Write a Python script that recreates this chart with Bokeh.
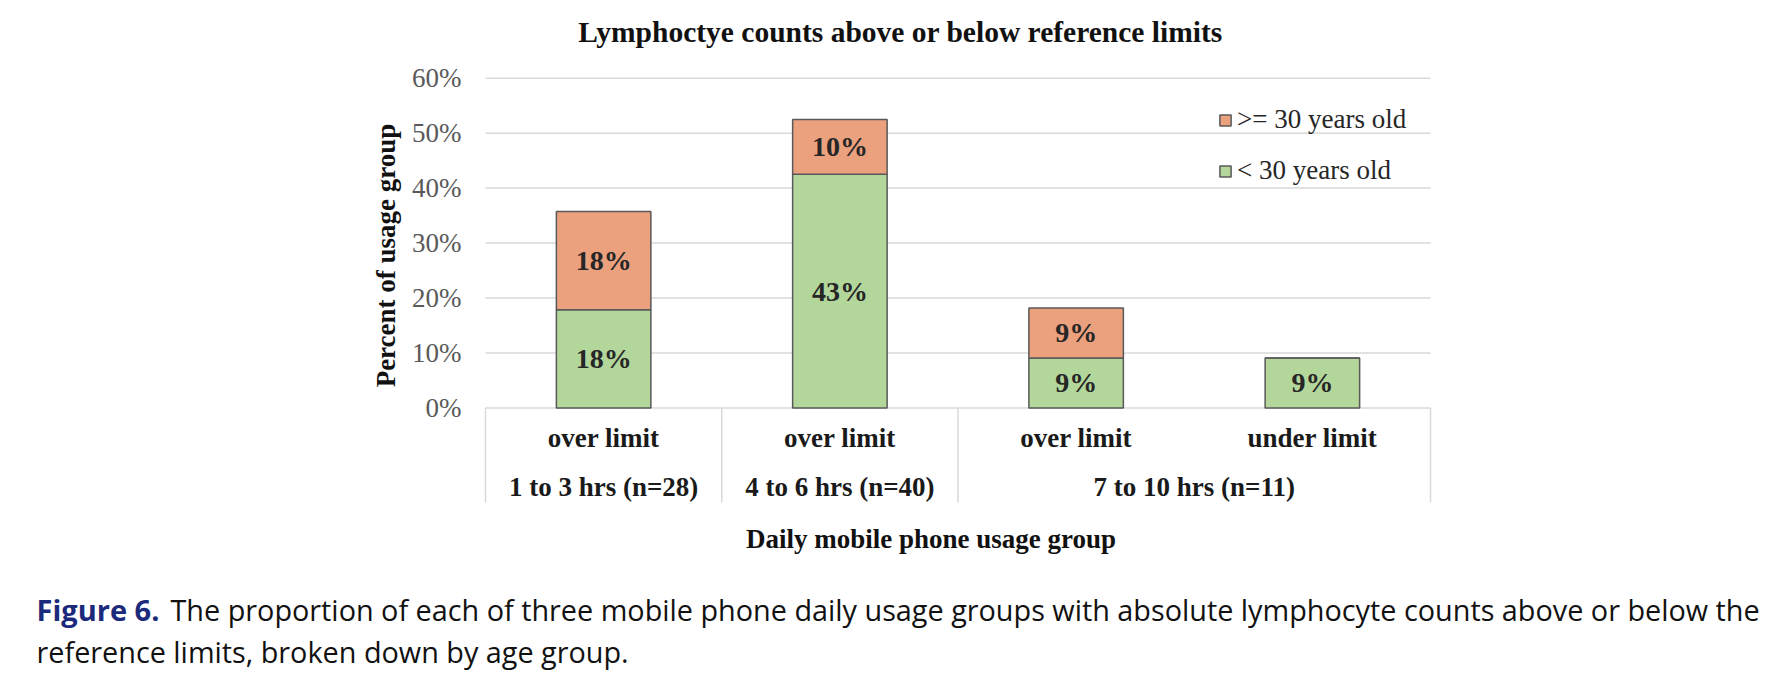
import math
from bokeh.plotting import figure
from bokeh.models import (ColumnDataSource, Range1d, FixedTicker, LinearAxis,
                          PrintfTickFormatter, Legend, LegendItem)
from bokeh.core.properties import value
from bokeh.embed import file_html
from bokeh.resources import INLINE

# ---------------- data ----------------
usage_groups = ["1 to 3 hrs (n=28)", "4 to 6 hrs (n=40)", "7 to 10 hrs (n=11)", "7 to 10 hrs (n=11)"]
limit_status = ["over limit", "over limit", "over limit", "under limit"]
under_30 = [17.86, 42.5, 9.09, 9.09]      # % of usage group, < 30 years old
over_30 = [17.86, 10.0, 9.09, 0.0]        # % of usage group, >= 30 years old
under_30_text = ["18%", "43%", "9%", "9%"]
over_30_text = ["18%", "10%", "9%", ""]
y_ticks = [0, 10, 20, 30, 40, 50, 60]
series_names = ["< 30 years old", ">= 30 years old"]
title_text = "Lymphoctye counts above or below reference limits"
x_title = "Daily mobile phone usage group"
y_title = "Percent of usage group"
caption_fig = "Figure 6."
caption_1 = "The proportion of each of three mobile phone daily usage groups with absolute lymphocyte counts above or below the"
caption_2 = "reference limits, broken down by age group."

# ---------------- layout / styles ----------------
W, H = 1760, 670
X0_PX, PX_PER_CAT = 485.0, 236.25     # left edge of category area, px per category
Y0_PX, PX_PER_PCT = 407.4, 5.495      # baseline (0 %) px, px per percent
GREEN = "#B3D69B"
ORANGE = "#EBA07E"
BORDER = "#595959"
GRID = "#D9D9D9"
SERIF = "Liberation Serif"
SANS = "Open Sans"


def fx(px):
    return (px - X0_PX) / PX_PER_CAT


def fy(py):
    return (Y0_PX - py) / PX_PER_PCT


n = len(usage_groups)
xs = [i + 0.5 for i in range(n)]

p = figure(x_range=Range1d(fx(0), fx(W)), y_range=Range1d(fy(H), fy(0)),
           width=W, height=H, min_border=0, title=None,
           x_axis_location=None, y_axis_location=None,
           output_backend="svg", toolbar_location=None,
           background_fill_color="white", border_fill_color="white",
           outline_line_color=None)
p.xgrid.grid_line_color = None
p.ygrid.grid_line_color = None

# gridlines across the category area
p.segment(x0=0, x1=n, y0=y_ticks, y1=y_ticks, line_color=GRID, line_width=1.5)

# category box separators
bounds = [0] + [i for i in range(1, n) if usage_groups[i] != usage_groups[i - 1]] + [n]
p.segment(x0=bounds, y0=0, x1=bounds, y1=fy(502), line_color=GRID, line_width=1.5)

src = ColumnDataSource(dict(
    x=xs, under=under_30, over=over_30,
    under_mid=[u / 2 for u in under_30],
    over_mid=[u + o / 2 for u, o in zip(under_30, over_30)],
    under_text=under_30_text, over_text=over_30_text,
    limit=limit_status,
))

rs = p.vbar_stack(["under", "over"], x="x", width=0.4, source=src,
                  fill_color=[GREEN, ORANGE], line_color=BORDER, line_width=1.5)

# value labels
for ycol, tcol in (("under_mid", "under_text"), ("over_mid", "over_text")):
    p.text(x="x", y=ycol, text=tcol, source=src,
           text_font=value(SERIF), text_font_style="bold", text_font_size="28px",
           text_color="#262626", text_align="center", text_baseline="middle")

# category labels (two levels)
p.text(x="x", y=fy(437), text="limit", source=src,
       text_font=value(SERIF), text_font_style="bold", text_font_size="27px",
       text_color="#1a1a1a", text_align="center", text_baseline="alphabetic")
groups_unique = list(dict.fromkeys(usage_groups))
group_x = [sum(x for x, g in zip(xs, usage_groups) if g == gu) /
           usage_groups.count(gu) for gu in groups_unique]
p.text(x=group_x, y=fy(486), text=groups_unique,
       text_font=value(SERIF), text_font_style="bold", text_font_size="27px",
       text_color="#1a1a1a", text_align="center", text_baseline="alphabetic")

# y axis (ticks only), pinned to the category area's left edge
yaxis = LinearAxis(fixed_location=0, ticker=FixedTicker(ticks=y_ticks),
                   formatter=PrintfTickFormatter(format="%d%%"),
                   axis_line_color=None, major_tick_line_color=None,
                   minor_tick_line_color=None, major_tick_out=0, major_tick_in=0,
                   major_label_standoff=24, major_label_text_font=SERIF,
                   major_label_text_font_size="27px",
                   major_label_text_color="#595959")
p.add_layout(yaxis, "left")

# titles
p.text(x=[fx(900)], y=[fy(31)], text=[title_text],
       text_font=value(SERIF), text_font_style="bold", text_font_size="29.5px",
       text_color="#111111", text_align="center", text_baseline="alphabetic")
p.text(x=[fx(930.5)], y=[fy(538)], text=[x_title],
       text_font=value(SERIF), text_font_style="bold", text_font_size="27px",
       text_color="#111111", text_align="center", text_baseline="alphabetic")
p.text(x=[fx(385)], y=[fy(255)], text=[y_title], angle=math.pi / 2,
       text_font=value(SERIF), text_font_style="bold", text_font_size="27px",
       text_color="#111111", text_align="center", text_baseline="middle")

# caption
p.text(x=[fx(36)], y=[fy(609)], text=[caption_fig],
       text_font=value(SANS), text_font_style="bold", text_font_size="29px",
       text_color="#1B2A7B", text_align="left", text_baseline="alphabetic")
p.text(x=[fx(170)], y=[fy(609)], text=[caption_1],
       text_font=value(SANS), text_font_size="28.8px",
       text_color="#111111", text_align="left", text_baseline="alphabetic")
p.text(x=[fx(36)], y=[fy(651)], text=[caption_2],
       text_font=value(SANS), text_font_size="28.8px",
       text_color="#111111", text_align="left", text_baseline="alphabetic")

# legend
legend = Legend(items=[LegendItem(label=series_names[1], renderers=[rs[1]]),
                       LegendItem(label=series_names[0], renderers=[rs[0]])],
                location=(1218, H - 106 - 80), orientation="vertical",
                glyph_width=14, glyph_height=14, label_height=30, spacing=20,
                label_standoff=5, padding=0, margin=0,
                border_line_color=None, background_fill_alpha=0,
                label_text_font=SERIF, label_text_font_size="27px",
                label_text_color="#262626")
p.add_layout(legend)

open("out.html", "w").write(file_html(p, INLINE))
